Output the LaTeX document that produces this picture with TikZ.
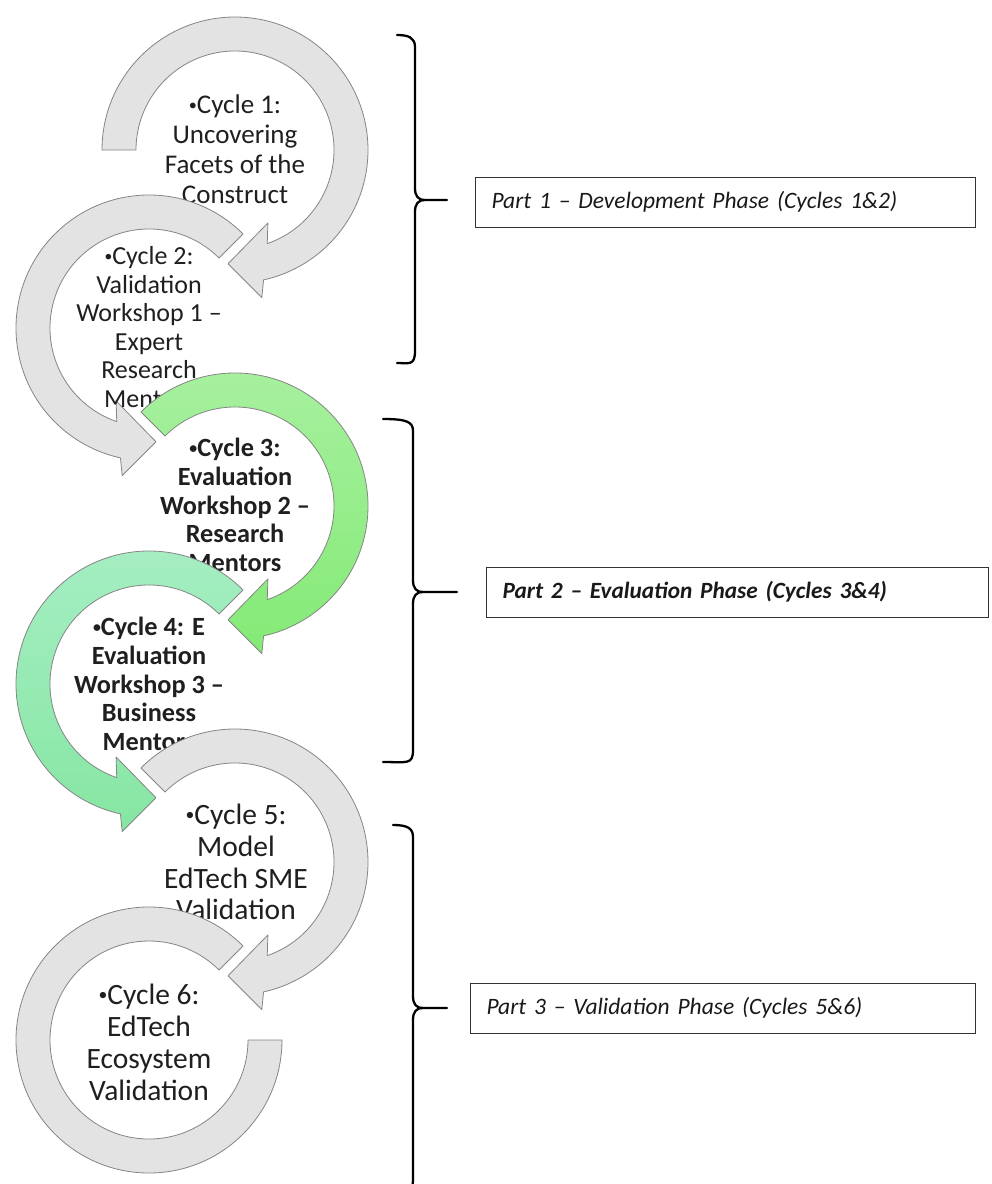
\documentclass[tikz,border=0pt]{standalone}
\usepackage{fontspec}
\setmainfont{Carlito}

\definecolor{ringgray}{HTML}{E3E3E3}
\definecolor{ringedge}{HTML}{858585}
\definecolor{gAtop}{HTML}{A8F0A0}
\definecolor{gAbot}{HTML}{84EA76}
\definecolor{gBtop}{HTML}{A6EEC4}
\definecolor{gBbot}{HTML}{86E6A2}

% small list bullet in front of each cycle title
\newcommand{\cycbullet}{\raisebox{0.12em}{\scalebox{0.6}{•}}}

% ring radii of the circular arrows
\def\ringR{133}
\def\ringr{99}

% clockwise circular arrow: #1 centre, #2 start angle of the tail, #3 style
\newcommand{\ringcw}[3]{%
  \begin{scope}[shift={#1}]
    \path[#3] (#2:\ringR) arc[start angle=#2, end angle=-77.6, radius=\ringR]
      -- (-79.7:150) -- (-93.5:114) -- (-65.7:80) -- (-71:\ringr)
      arc[start angle=-71, end angle=#2, radius=\ringr] -- cycle;
  \end{scope}}

% counter-clockwise circular arrow (mirror image of the one above)
\newcommand{\ringccw}[3]{%
  \begin{scope}[shift={#1}]
    \path[#3] (#2:\ringR) arc[start angle=#2, end angle=257.6, radius=\ringR]
      -- (259.7:150) -- (273.5:114) -- (245.7:80) -- (251:\ringr)
      arc[start angle=251, end angle=#2, radius=\ringr] -- cycle;
  \end{scope}}

% curly brace opening to the left: #1 x, #2 top, #3 middle, #4 bottom, #5 hook end, #6 tip end
\newcommand{\phasebracket}[6]{%
  \draw[phasebrace] (#5,-#2) .. controls (#1-6,-#2) and (#1,-#2-3) .. (#1,-#2-12)
    -- (#1,-#3+12) .. controls (#1,-#3+4) and (#1+3,-#3) .. (#1+10,-#3) -- (#6,-#3);
  \draw[phasebrace] (#1+10,-#3) .. controls (#1+3,-#3) and (#1,-#3-4) .. (#1,-#3-12)
    -- (#1,-#4+12) .. controls (#1,-#4-3) and (#1-6,-#4) .. (#5,-#4);}

\begin{document}
\begin{tikzpicture}[x=1pt,y=1pt,
  ringline/.style={draw=ringedge, line width=0.8pt, line join=round},
  grayring/.style={ringline, fill=ringgray},
  greenA/.style={ringline, top color=gAtop, bottom color=gAbot},
  greenB/.style={ringline, top color=gBtop, bottom color=gBbot},
  cyctext/.style={align=center, inner sep=0pt, text=black!88},
  phasebox/.style={draw=black!80, line width=1pt, anchor=west, minimum height=50pt,
    inner xsep=16pt, align=left, text=black!90},
  phasebrace/.style={line width=2.3pt, line cap=round, line join=round}]

\useasboundingbox (0,0) rectangle (992,-1184);
\clip (0,0) rectangle (992,-1184);

% ---- cycle 1
\ringcw{(235,-150)}{180}{grayring}
\node[cyctext, font=\fontsize{27}{30}\selectfont] (c1) at (235,-149)
  {\cycbullet Cycle 1:\\Uncovering\\Facets of the\\Construct};

% ---- cycle 2
\ringccw{(149,-328)}{45}{grayring}
\node[cyctext, font=\fontsize{26}{28.6}\selectfont] (c2) at (149,-327)
  {\cycbullet Cycle 2:\\Validation\\Workshop 1 –\\Expert\\Research\\Mentors};

% ---- cycle 3
\ringcw{(235,-506)}{135}{greenA}
\node[cyctext, font=\fontsize{26.3}{28.8}\selectfont\bfseries] (c3) at (235,-505)
  {\cycbullet Cycle 3:\\Evaluation\\Workshop 2 –\\Research\\Mentors};

% ---- cycle 4
\ringccw{(149,-684)}{45}{greenB}
\node[cyctext, font=\fontsize{26.3}{28.8}\selectfont\bfseries] (c4) at (149,-684)
  {\cycbullet Cycle 4: E\\Evaluation\\Workshop 3 –\\Business\\Mentors};

% ---- cycle 5
\ringcw{(235,-862)}{135}{grayring}
\node[cyctext, font=\fontsize{29.5}{31.8}\selectfont] (c5) at (236,-862)
  {\cycbullet Cycle 5:\\Model\\EdTech SME\\Validation};

% ---- cycle 6 (ends without an arrow head)
\begin{scope}[shift={(149,-1040)}]
  \path[grayring] (45:\ringR) arc[start angle=45, end angle=360, radius=\ringR]
    -- (0:\ringr) arc[start angle=360, end angle=45, radius=\ringr] -- cycle;
\end{scope}
\node[cyctext, font=\fontsize{29.5}{32}\selectfont] (c6) at (149,-1042)
  {\cycbullet Cycle 6:\\EdTech\\Ecosystem\\Validation};

% ---- phase labels
\node[phasebox, text width=468pt, font=\fontsize{23.5}{28}\selectfont\itshape] (p1) at (475,-202)
  {Part 1 – Development Phase (Cycles 1\&2)};
\node[phasebox, text width=470pt, font=\fontsize{23.3}{28}\selectfont\bfseries\itshape] (p2) at (486,-592)
  {Part 2 – Evaluation Phase (Cycles 3\&4)};
\node[phasebox, text width=473pt, font=\fontsize{23.5}{28}\selectfont\itshape] (p3) at (470,-1008)
  {Part 3 – Validation Phase (Cycles 5\&6)};

% ---- braces grouping the cycles into phases
\phasebracket{415}{35}{200}{363}{397}{447}
\phasebracket{413}{419}{592}{762}{383}{457}
\phasebracket{413}{825}{1008}{1191}{393}{447}

\end{tikzpicture}
\end{document}
